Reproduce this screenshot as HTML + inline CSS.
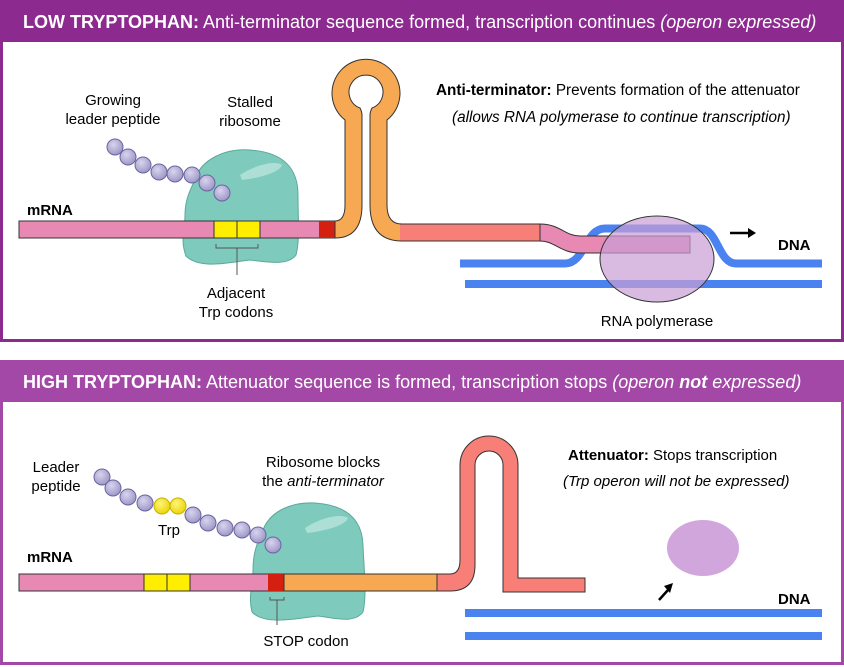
<!DOCTYPE html>
<html><head><meta charset="utf-8"><style>
body{margin:0;background:#fff}
svg{display:block;font-family:"Liberation Sans",Arial,sans-serif}
</style></head><body>
<svg width="844" height="667" viewBox="0 0 844 667">
<defs>
<radialGradient id="bead" cx="0.4" cy="0.35" r="0.7"><stop offset="0" stop-color="#d8d4ee"/><stop offset="1" stop-color="#9a94c4"/></radialGradient>
<radialGradient id="ybead" cx="0.4" cy="0.35" r="0.7"><stop offset="0" stop-color="#fff47a"/><stop offset="1" stop-color="#e8d400"/></radialGradient>
</defs>
<g>
<rect x="1.5" y="1.5" width="841" height="339" fill="#fff" stroke="#8d2a90" stroke-width="3"/>
<rect x="0" y="0" width="844" height="42" fill="#8d2a90"/>
<text x="23" y="28" fill="#fff" font-size="18"><tspan font-weight="bold">LOW TRYPTOPHAN:</tspan>  Anti-terminator sequence formed, transcription continues <tspan font-style="italic">(operon expressed)</tspan></text>

<path d="M195 180 C200 160 225 148 250 150 C280 152 298 165 298 195 C298 220 300 240 296 255 C288 266 268 262 250 260 C232 262 200 270 186 256 C180 240 185 230 185 215 C185 200 190 190 195 180 Z" fill="#7ecbbd" stroke="#5aa99a" stroke-width="1"/>
<path d="M240 175 C255 165 275 160 282 165 C280 172 260 178 242 180 Z" fill="#b9e4dc" opacity="0.8"/>

<rect x="19" y="221" width="316" height="17" fill="#e889b4" stroke="#333" stroke-width="1"/>
<rect x="214" y="221" width="23" height="17" fill="#ffee00" stroke="#333"/>
<rect x="237" y="221" width="23" height="17" fill="#ffee00" stroke="#333"/>
<rect x="319" y="221" width="16" height="17" fill="#d42010"/>
<path d="M216 244 V248 H258 V244 M237 248 V275" fill="none" stroke="#555" stroke-width="1"/>

<path d="M335 221 Q345 221 345 205 V120 A34 34 0 1 1 387 120 V205 Q387 224 402 224 V241 Q370 241 370 205 V115 Q370 112 372 108 A17 17 0 1 0 360 108 Q362 112 362 115 V205 Q362 238 335 238 Z" fill="#f6a952" stroke="#333" stroke-width="1"/>
<rect x="400" y="224" width="140" height="17" fill="#f87f78"/>
<path d="M400 224 H540" stroke="#333" stroke-width="1"/><path d="M400 241 H540" stroke="#333" stroke-width="1"/>

<rect x="465" y="280" width="357" height="8" fill="#4a82f0"/>
<path d="M460 263.5 H565 C585 263.5 585 228.5 605 228.5 H700 C718 228.5 718 263.5 736 263.5 H822" fill="none" stroke="#4a82f0" stroke-width="8"/>
<path d="M540 224 C560 224 565 236 580 236 H690 V253 H580 C560 253 555 241 540 241 Z" fill="#e889b4" stroke="#333" stroke-width="1"/>
<ellipse cx="657" cy="259" rx="57" ry="43" fill="#c99ed4" fill-opacity="0.7" stroke="#333" stroke-width="1"/>
<path d="M730 233 H748" stroke="#000" stroke-width="2.5"/><path d="M748 228 L756 233 L748 238 Z" fill="#000"/>

<g fill="url(#bead)" stroke="#6a64a0" stroke-width="1">
<circle cx="115" cy="147" r="8"/><circle cx="128" cy="157" r="8"/><circle cx="143" cy="165" r="8"/><circle cx="159" cy="172" r="8"/><circle cx="175" cy="174" r="8"/><circle cx="192" cy="175" r="8"/><circle cx="207" cy="183" r="8"/><circle cx="222" cy="193" r="8"/>
</g>

<g font-size="15" fill="#000">
<text x="113" y="105" text-anchor="middle">Growing</text>
<text x="113" y="124" text-anchor="middle">leader peptide</text>
<text x="250" y="107" text-anchor="middle">Stalled</text>
<text x="250" y="126" text-anchor="middle">ribosome</text>
<text x="27" y="215" font-weight="bold">mRNA</text>
<text x="236" y="298" text-anchor="middle">Adjacent</text>
<text x="236" y="317" text-anchor="middle">Trp codons</text>
<text x="436" y="95" font-size="15.3"><tspan font-weight="bold">Anti-terminator:</tspan>  Prevents formation of the attenuator</text>
<text x="452" y="122" font-style="italic" font-size="15.3">(allows RNA polymerase to continue transcription)</text>
<text x="778" y="250" font-weight="bold">DNA</text>
<text x="657" y="326" text-anchor="middle">RNA polymerase</text>
</g>
</g>

<g>
<rect x="1.5" y="361.5" width="841" height="302" fill="#fff" stroke="#a448a8" stroke-width="3"/>
<rect x="0" y="360" width="844" height="42" fill="#a448a8"/>
<text x="23" y="388" fill="#fff" font-size="18"><tspan font-weight="bold">HIGH TRYPTOPHAN:</tspan>  Attenuator sequence is formed, transcription stops <tspan font-style="italic">(operon <tspan font-weight="bold">not</tspan> expressed)</tspan></text>

<path d="M262 533 C268 512 290 502 315 503 C345 505 362 518 363 545 C364 570 367 595 363 612 C354 624 335 618 318 616 C300 618 265 626 252 612 C248 596 253 585 253 570 C253 555 256 545 262 533 Z" fill="#7ecbbd" stroke="#5aa99a" stroke-width="1"/>
<path d="M305 528 C320 518 340 513 348 518 C346 525 326 531 307 533 Z" fill="#b9e4dc" opacity="0.8"/>

<rect x="19" y="574" width="265" height="17" fill="#e889b4" stroke="#333"/>
<rect x="144" y="574" width="23" height="17" fill="#ffee00" stroke="#333"/>
<rect x="167" y="574" width="23" height="17" fill="#ffee00" stroke="#333"/>
<rect x="268" y="574" width="16" height="17" fill="#d42010"/>
<rect x="284" y="574" width="154" height="17" fill="#f6a952" stroke="#333"/>
<path d="M270 597 V600 H284 V597 M277 600 V625" fill="none" stroke="#555" stroke-width="1"/>

<path d="M437 574 H450 Q460 574 460 560 V465 A29 29 0 0 1 518 465 V578 H585 V592 H503 V465 A14 14 0 0 0 475 465 V565 Q475 591 450 591 H437 Z" fill="#f87f78" stroke="#333" stroke-width="1"/>

<rect x="465" y="609" width="357" height="8" fill="#4a82f0"/>
<rect x="465" y="632" width="357" height="8" fill="#4a82f0"/>
<ellipse cx="703" cy="548" rx="36" ry="28" fill="#d1a6dc"/>
<path d="M659 600 L668 590" stroke="#000" stroke-width="2.5"/><path d="M664 586 L673 583 L670 593 Z" fill="#000"/>

<g fill="url(#bead)" stroke="#6a64a0" stroke-width="1">
<circle cx="102" cy="477" r="8"/><circle cx="113" cy="488" r="8"/><circle cx="128" cy="497" r="8"/><circle cx="145" cy="503" r="8"/>
<circle cx="162" cy="506" r="8" fill="url(#ybead)" stroke="#c8b000"/><circle cx="178" cy="506" r="8" fill="url(#ybead)" stroke="#c8b000"/>
<circle cx="193" cy="515" r="8"/><circle cx="208" cy="523" r="8"/><circle cx="225" cy="528" r="8"/><circle cx="242" cy="530" r="8"/><circle cx="258" cy="535" r="8"/><circle cx="273" cy="545" r="8"/>
</g>

<g font-size="15" fill="#000">
<text x="56" y="472" text-anchor="middle">Leader</text>
<text x="56" y="491" text-anchor="middle">peptide</text>
<text x="169" y="535" text-anchor="middle">Trp</text>
<text x="323" y="467" text-anchor="middle">Ribosome blocks</text>
<text x="323" y="486" text-anchor="middle">the <tspan font-style="italic">anti-terminator</tspan></text>
<text x="27" y="562" font-weight="bold">mRNA</text>
<text x="306" y="646" text-anchor="middle">STOP codon</text>
<text x="568" y="460"><tspan font-weight="bold">Attenuator:</tspan>  Stops transcription</text>
<text x="563" y="486" font-style="italic">(Trp operon will not be expressed)</text>
<text x="778" y="604" font-weight="bold">DNA</text>
</g>
</g>
</svg>
</body></html>
